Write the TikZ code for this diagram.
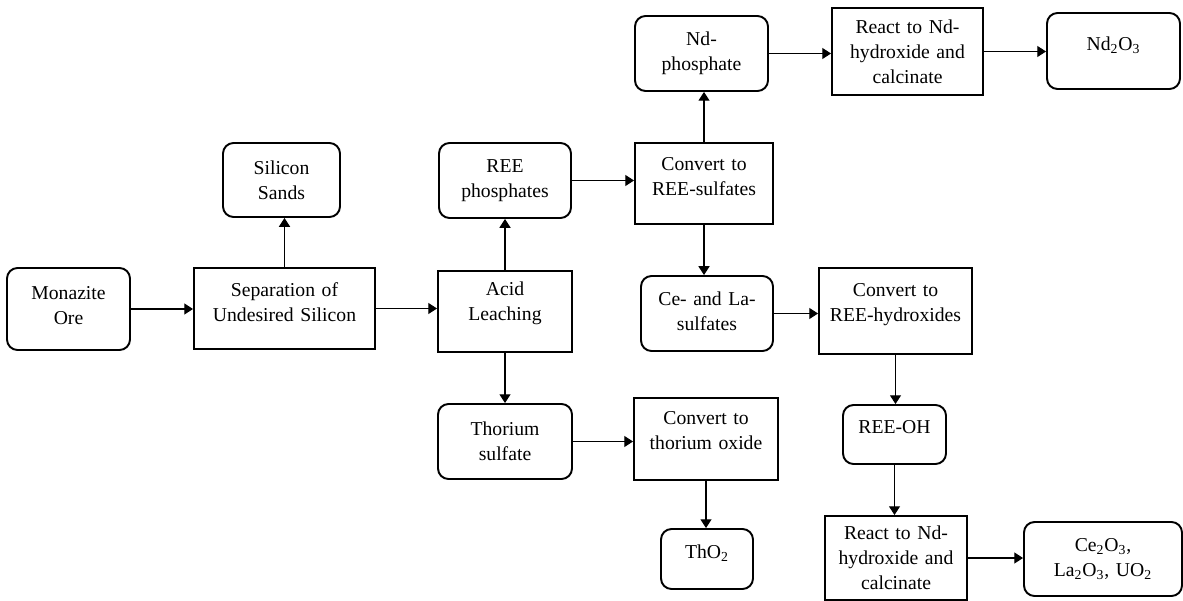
\documentclass[tikz,border=0pt]{standalone}
\usepackage{fontspec}
\setmainfont{Liberation Serif}
\usetikzlibrary{arrows.meta}

\begin{document}
\begin{tikzpicture}[
		x=0.02cm, y=-0.02cm,
		every node/.style={font=\fontsize{11.2}{14.2}\selectfont, align=center, inner sep=0pt},
		unit/.style={draw, line width=1.1pt},
		procbox/.style={unit, rectangle},
		prodbox/.style={unit, rounded corners=6pt},
		sz/.style 2 args={minimum width=#1*0.02cm, minimum height=#2*0.02cm, text width=#1*0.02cm-8pt},
		lift/.style={execute at end node={\endgraf\kern#1}},
		flow/.style={line width=0.6pt, -{Triangle[length=5pt, width=6.3pt]}}
		]
	
	\useasboundingbox (0, 0) rectangle (1183, 601);
	
	% Ore and silicon removal
	\node[prodbox, sz={123}{82}, lift=0.14cm] (mon) at (68.5, 309) {Monazite\\Ore};
	\node[procbox, sz={181}{81}, lift=0.26cm] (sep) at (284.5, 308.5) {Separation of\\Undesired Silicon};
	\node[prodbox, sz={117}{74}] (sil) at (281.5, 180) {Silicon\\Sands};
	
	% Leaching
	\node[procbox, sz={134}{81}, lift=0.32cm] (acid) at (505, 311.5) {Acid\\Leaching};
	\node[prodbox, sz={132}{75}] (reep) at (505, 180.5) {REE\\phosphates};
	\node[prodbox, sz={134}{75}] (ths) at (505, 441.5) {Thorium\\sulfate};
	
	% Sulfates
	\node[procbox, sz={138}{81}, lift=0.26cm] (conS) at (704, 183.5) {Convert to\\REE-sulfates};
	\node[prodbox, sz={133}{75}] (ndp) at (701.5, 53.5) {Nd-\\phosphate};
	\node[prodbox, sz={132}{75}, lift=0.08cm] (cela) at (707, 313.5) {Ce- and La-\\sulfates};
	
	% Thorium
	\node[procbox, sz={144}{82}, lift=0.32cm] (conT) at (706, 439) {Convert to\\thorium oxide};
	\node[prodbox, sz={92}{60}, lift=0.24cm] (tho2) at (707, 559) {ThO\textsubscript{2}};
	
	% Nd
	\node[procbox, sz={151}{87}] (reactA) at (907.5, 51.5) {React to Nd-\\hydroxide and\\calcinate};
	\node[prodbox, sz={133}{76}, lift=0.24cm] (nd2o3) at (1113.5, 51) {Nd\textsubscript{2}O\textsubscript{3}};
	
	% Ce and La
	\node[procbox, sz={153}{86}, lift=0.24cm] (conH) at (895.5, 311) {Convert to\\REE-hydroxides};
	\node[prodbox, sz={103}{59}, lift=0.3cm] (reeoh) at (894.5, 434.5) {REE-OH};
	\node[procbox, sz={142}{84}] (reactB) at (896, 558) {React to Nd-\\hydroxide and\\calcinate};
	\node[prodbox, sz={158}{74}] (ce2o3) at (1103, 559) {Ce\textsubscript{2}O\textsubscript{3},\\La\textsubscript{2}O\textsubscript{3}, UO\textsubscript{2}};
	
	% Horizontal arrows
	\foreach \a/\b in {mon/sep, sep/acid, reep/conS, ndp/reactA, reactA/nd2o3, cela/conH, reactB/ce2o3, ths/conT}{
		\draw[flow] (\a.east) -- (\a.east -| \b.west);
	}
	
	% Arrows up
	\foreach \a/\b in {sep/sil, acid/reep, conS/ndp}{
		\draw[flow] (\a.north) -- (\a.north |- \b.south);
	}
	
	% Arrows down
	\foreach \a/\b in {acid/ths, conS/cela, conH/reeoh, reeoh/reactB, conT/tho2}{
		\draw[flow] (\a.south) -- (\a.south |- \b.north);
	}

\end{tikzpicture}
\end{document}
